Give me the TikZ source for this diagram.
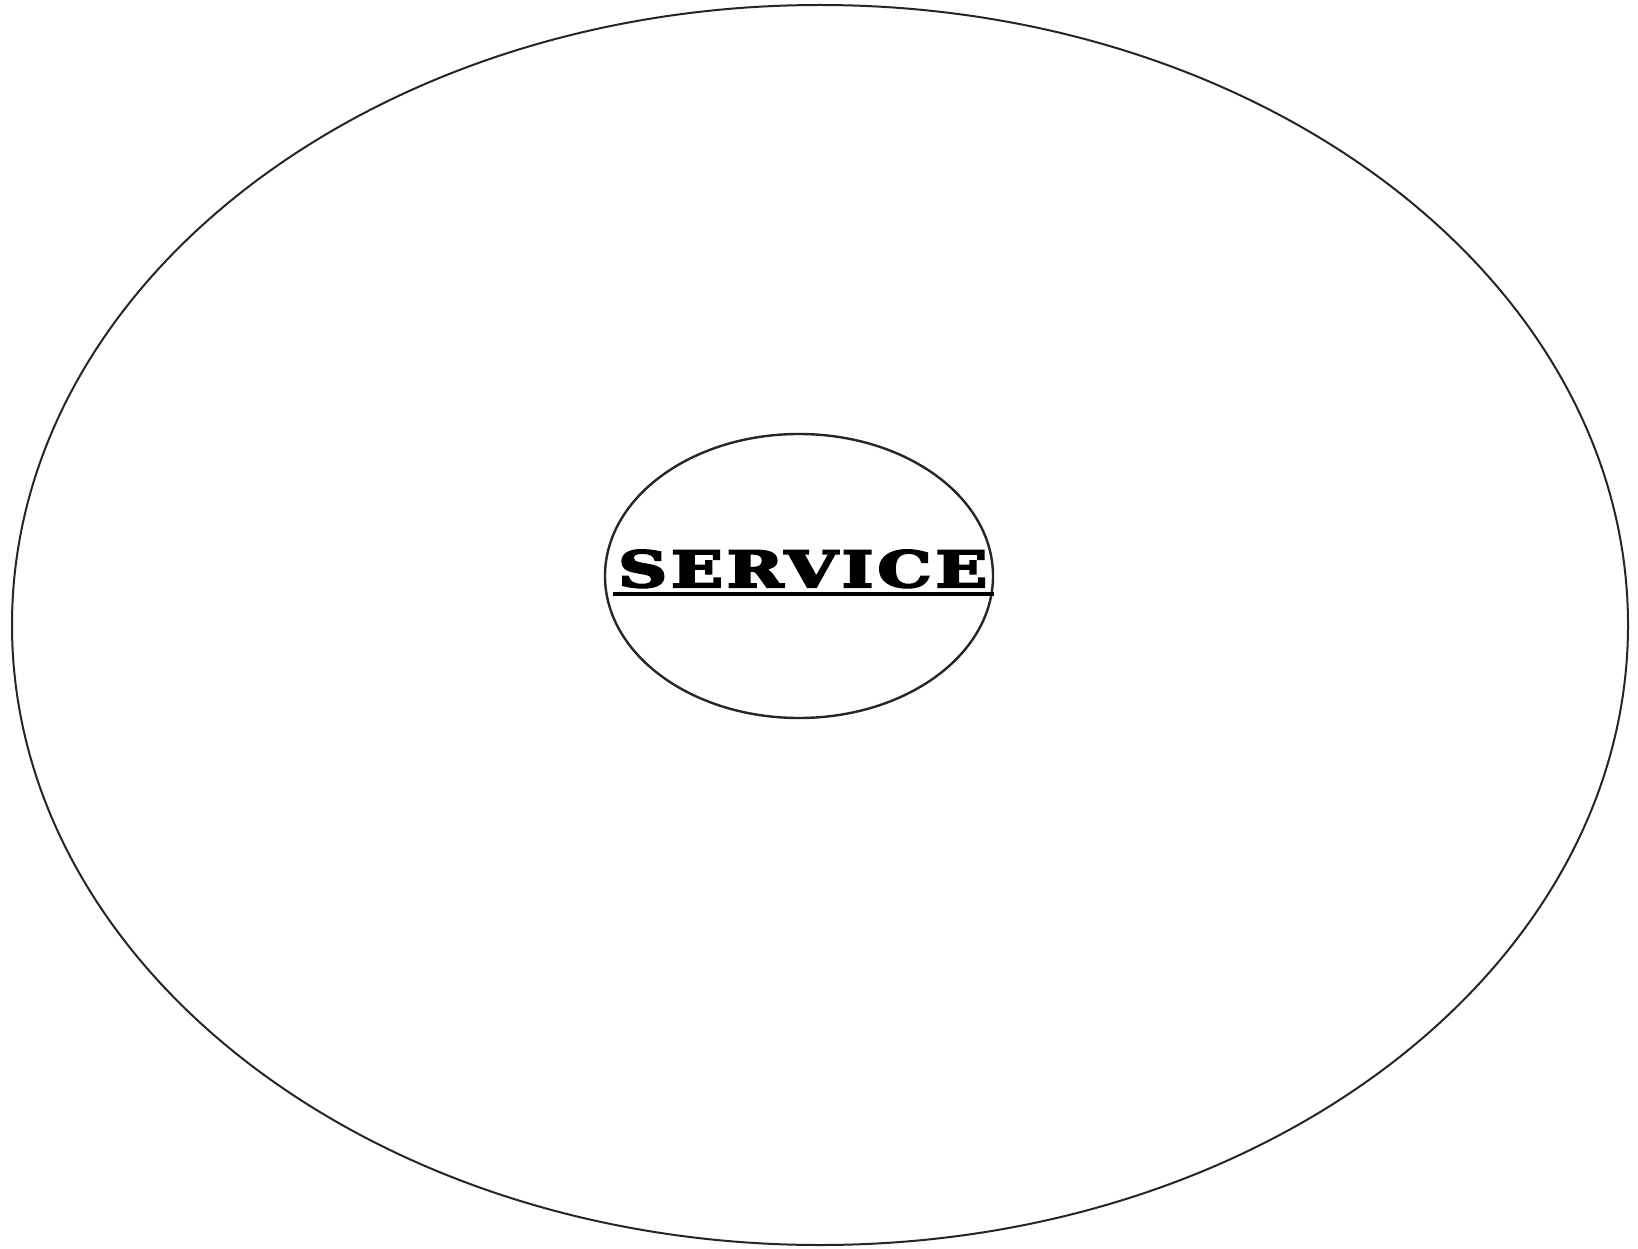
\documentclass[tikz,border=0pt]{standalone}
\usepackage{fontspec}
\newfontfamily\slabfont[LetterSpace=6,FakeBold=4]{DejaVu Serif}
\usetikzlibrary{shapes.geometric}
\tikzset{
  ring/.style={draw=black!85, ellipse, inner sep=0pt, outer sep=0pt},
  title/.style={inner sep=0pt, anchor=base west}
}
\begin{document}
\begin{tikzpicture}[x=1pt,y=-1pt]
\useasboundingbox[fill=white] (0,0) rectangle (1638,1249);
\node[ring, line width=2pt, minimum width=1616pt, minimum height=1240pt] (outer) at (820,625) {};
\node[ring, line width=2.4pt, minimum width=388pt, minimum height=284pt] (inner) at (799,576) {};
\node[title] (label) at (618,587) {\resizebox{369pt}{37pt}{\slabfont\bfseries SERVICE}};
\coordinate (ul) at (613,594);
\coordinate (ur) at (994,594);
\draw[line width=3.2pt] (ul) -- (ur);
\end{tikzpicture}
\end{document}
